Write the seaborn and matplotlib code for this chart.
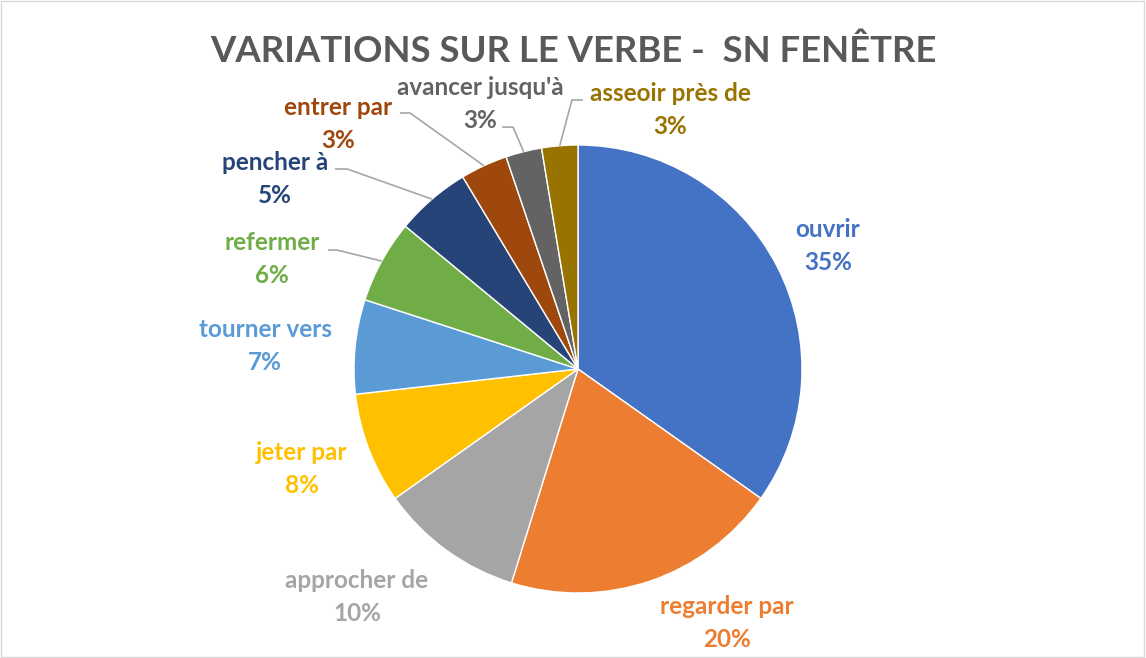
import numpy as np
import matplotlib
matplotlib.use("Agg")
import matplotlib.pyplot as plt
import seaborn as sns
from matplotlib.patches import Rectangle

# data (share of each verb, in %)
verbes = ["ouvrir", "regarder par", "approcher de", "jeter par", "tourner vers",
          "refermer", "pencher à", "entrer par", "avancer jusqu'à", "asseoir près de"]
parts = [34.8, 20.0, 10.4, 8.0, 6.8, 6.0, 5.4, 3.4, 2.6, 2.6]
couleurs = ["#4472C4", "#ED7D31", "#A5A5A5", "#FFC000", "#5B9BD5",
            "#70AD47", "#264478", "#9E480E", "#636363", "#997300"]

# layout: label block centres (in pie radius units) and leader stubs
label_pos = [(1.116, 0.549), (0.665, -1.134), (-0.987, -1.018), (-1.232, -0.446),
             (-1.397, 0.103), (-1.366, 0.491), (-1.353, 0.848), (-1.071, 1.094),
             (-0.4375, 1.183), (0.411, 1.156)]
# index -> (x start, x elbow, y) of the horizontal stub
leaders = {5: (-1.116, -1.076, 0.531), 6: (-1.085, -1.031, 0.893),
           7: (-0.795, -0.750, 1.143), 8: (-0.339, -0.290, 1.080),
           9: (0.022, -0.027, 1.201)}

sns.set_theme(style="white")
plt.rcParams["font.family"] = ["Lato", "DejaVu Sans"]

W, H = 1146, 658
R = 224.0
cx, cy = 578, 369
fig = plt.figure(figsize=(W / 100, H / 100), dpi=100)
ax = fig.add_axes([0, 0, 1, 1])

wedges, _ = ax.pie(parts, colors=couleurs, startangle=90, counterclock=False,
                   radius=1.0, wedgeprops=dict(edgecolor="white", linewidth=1))

ax.set_xlim(-cx / R, (W - cx) / R)
ax.set_ylim(-(H - cy) / R, cy / R)
ax.set_aspect("equal")
ax.axis("off")

for i, (nom, p) in enumerate(zip(verbes, parts)):
    x, y = label_pos[i]
    ax.text(x, y, f"{nom}\n{round(p)}%", ha="center", va="center",
            color=couleurs[i], fontsize=17.5, fontweight="bold", linespacing=1.55)
    if i in leaders:
        x0, x1, yl = leaders[i]
        w = wedges[i]
        mid = np.deg2rad((w.theta1 + w.theta2) / 2)
        ax.plot([x0, x1, np.cos(mid)], [yl, yl, np.sin(mid)],
                color="#A6A6A6", lw=1.2, solid_capstyle="butt")

fig.text(0.5, (H - 51) / H, "VARIATIONS SUR LE VERBE -  SN FENÊTRE", ha="center",
         va="center", fontsize=26.3, fontweight="bold", color="#595959")

fig.patches.append(Rectangle((0.001, 0.002), 0.997, 0.996, transform=fig.transFigure,
                             fill=False, edgecolor="#D9D9D9", lw=1))

fig.savefig("out.png", dpi=100)
